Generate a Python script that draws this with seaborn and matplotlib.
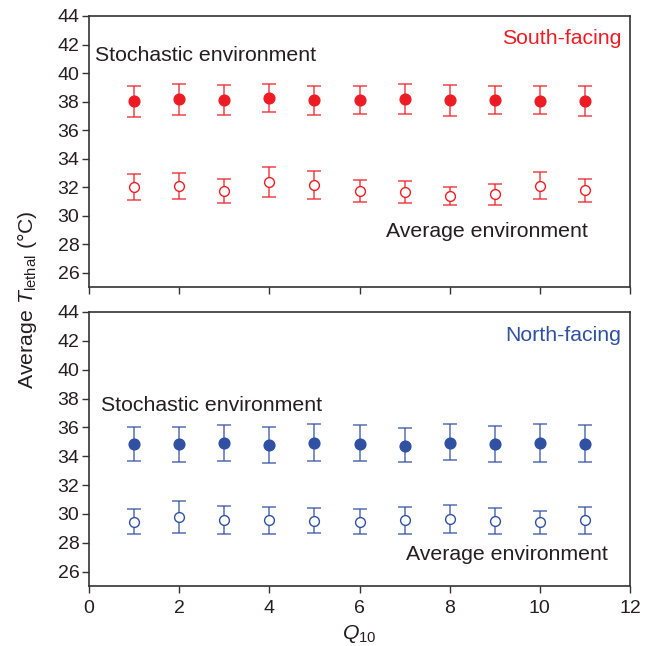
import matplotlib
matplotlib.use("Agg")
import matplotlib.pyplot as plt
import seaborn as sns
import numpy as np
import pandas as pd

q10 = [1, 2, 3, 4, 5, 6, 7, 8, 9, 10, 11]

south_stoch = [38.05, 38.17, 38.10, 38.26, 38.10, 38.10, 38.19, 38.10, 38.14, 38.07, 38.07]
south_stoch_hi = [39.12, 39.26, 39.15, 39.24, 39.10, 39.08, 39.24, 39.19, 39.12, 39.08, 39.10]
south_stoch_lo = [36.95, 37.07, 37.07, 37.26, 37.07, 37.12, 37.12, 37.00, 37.14, 37.12, 37.02]

south_avg = [32.00, 32.05, 31.75, 32.35, 32.17, 31.75, 31.65, 31.40, 31.53, 32.10, 31.77]
south_avg_hi = [32.91, 32.96, 32.56, 33.40, 33.12, 32.50, 32.40, 32.03, 32.19, 33.03, 32.56]
south_avg_lo = [31.07, 31.14, 30.90, 31.28, 31.18, 30.96, 30.86, 30.77, 30.77, 31.14, 30.93]

north_stoch = [34.85, 34.83, 34.90, 34.78, 34.90, 34.87, 34.74, 34.92, 34.85, 34.90, 34.85]
north_stoch_hi = [36.06, 36.06, 36.15, 36.06, 36.20, 36.15, 35.94, 36.20, 36.10, 36.20, 36.15]
north_stoch_lo = [33.70, 33.61, 33.70, 33.52, 33.70, 33.66, 33.57, 33.73, 33.63, 33.63, 33.59]

north_avg = [29.45, 29.77, 29.59, 29.57, 29.52, 29.45, 29.57, 29.66, 29.48, 29.41, 29.59]
north_avg_hi = [30.31, 30.90, 30.56, 30.49, 30.42, 30.33, 30.49, 30.63, 30.40, 30.22, 30.51]
north_avg_lo = [28.60, 28.67, 28.60, 28.60, 28.65, 28.60, 28.60, 28.65, 28.60, 28.60, 28.60]

yticks = [26, 28, 30, 32, 34, 36, 38, 40, 42, 44]
xticks = [0, 2, 4, 6, 8, 10, 12]

RED = "#ED1C24"
BLUE = "#3050A2"
TXT = "#231F20"

sns.set_theme(style="ticks")
plt.rcParams["font.family"] = ["Liberation Sans", "DejaVu Sans"]
plt.rcParams["mathtext.fontset"] = "custom"
plt.rcParams["mathtext.rm"] = "Liberation Sans"
plt.rcParams["mathtext.it"] = "Liberation Sans:italic"
plt.rcParams["axes.edgecolor"] = "#333333"
plt.rcParams["xtick.color"] = "#333333"
plt.rcParams["ytick.color"] = "#333333"
plt.rcParams["xtick.labelcolor"] = TXT
plt.rcParams["ytick.labelcolor"] = TXT

W, H = 653, 646
fig = plt.figure(figsize=(W / 100, H / 100), dpi=100)

def ax_rect(x0, y0, x1, y1):
    return [x0 / W, 1 - y1 / H, (x1 - x0) / W, (y1 - y0) / H]

ax_top = fig.add_axes(ax_rect(89, 16, 630, 287))
ax_bot = fig.add_axes(ax_rect(89, 312, 630, 586))

def draw(ax, mean, lo, hi, color, filled):
    df = pd.DataFrame({"q10": q10, "val": mean})
    yerr = np.array([np.array(mean) - np.array(lo), np.array(hi) - np.array(mean)])
    ax.errorbar(q10, mean, yerr=yerr, fmt="none", ecolor=color, elinewidth=1.2,
                capsize=5, capthick=1.2, alpha=0.75, zorder=2)
    sns.scatterplot(data=df, x="q10", y="val", ax=ax, s=60 if filled else 50,
                    color=color if filled else "white", edgecolor=color,
                    linewidth=1.0, zorder=3, legend=False)

draw(ax_top, south_stoch, south_stoch_lo, south_stoch_hi, RED, True)
draw(ax_top, south_avg, south_avg_lo, south_avg_hi, RED, False)
draw(ax_bot, north_stoch, north_stoch_lo, north_stoch_hi, BLUE, True)
draw(ax_bot, north_avg, north_avg_lo, north_avg_hi, BLUE, False)

for ax in (ax_top, ax_bot):
    ax.set_xlim(0, 12)
    ax.set_ylim(25, 44)
    ax.set_yticks(yticks)
    ax.set_xticks(xticks)
    ax.tick_params(direction="out", length=5, width=1.0, labelsize=14, pad=2)
    ax.tick_params(axis="x", pad=5)
    for s in ax.spines.values():
        s.set_linewidth(1.2)
        s.set_visible(True)
    ax.set_xlabel("")
    ax.set_ylabel("")

ax_top.tick_params(axis="x", labelbottom=False)

fs = 15.3
ax_top.text(0.13, 41.2, "Stochastic environment", fontsize=fs, color=TXT, ha="left", va="center")
ax_top.text(11.82, 42.4, "South-facing", fontsize=fs, color=RED, ha="right", va="center")
ax_top.text(6.59, 28.9, "Average environment", fontsize=fs, color=TXT, ha="left", va="center")

ax_bot.text(0.27, 37.5, "Stochastic environment", fontsize=fs, color=TXT, ha="left", va="center")
ax_bot.text(11.8, 42.4, "North-facing", fontsize=fs, color=BLUE, ha="right", va="center")
ax_bot.text(7.03, 27.2, "Average environment", fontsize=fs, color=TXT, ha="left", va="center")

fig.text(27 / W, 1 - 300 / H, r"Average $\mathit{T}_{\mathrm{lethal}}$ (°C)", rotation=90,
         fontsize=fs, color=TXT, ha="center", va="center")
fig.text(359 / W, 1 - 634 / H, r"$\mathit{Q}_{\mathrm{10}}$", fontsize=fs, color=TXT,
         ha="center", va="center")

fig.savefig("out.png", dpi=100)
